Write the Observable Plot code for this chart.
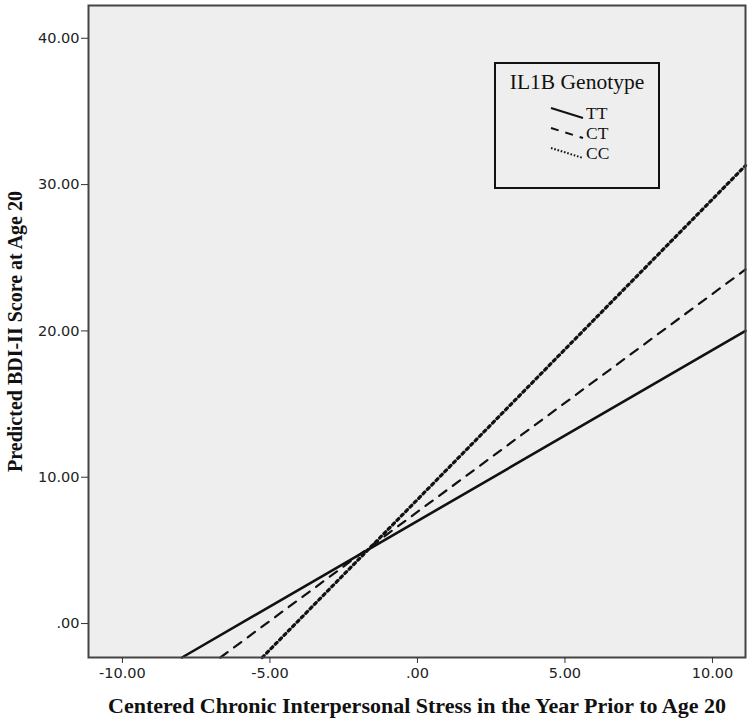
<!DOCTYPE html>
<html>
<head>
<meta charset="utf-8">
<script src="https://cdn.jsdelivr.net/npm/d3@7"></script>
<script src="https://cdn.jsdelivr.net/npm/@observablehq/plot@0.6"></script>
<style>
  html, body { margin: 0; padding: 0; background: #fff; }
  #wrap { position: relative; width: 750px; height: 722px; }
  #legend {
    position: absolute; left: 494px; top: 62px; width: 162px; height: 123px;
    border: 2px solid #111; box-sizing: content-box;
    font-family: "Liberation Serif", serif; color: #111;
  }
  #legend .ttl { position: absolute; left: 0; width: 100%; top: 6px; text-align: center; font-size: 21.5px; }
  #legend svg { position: absolute; left: 0; top: 0; }
</style>
</head>
<body>
<div id="wrap"></div>
<script>
// Genotype series (endpoints of each predicted line)
const genotypes = ["TT", "CT", "CC"];
const stressX = {
  TT: [-7.98, 11.12],
  CT: [-6.68, 11.12],
  CC: [-5.26, 11.12]
};
const bdiY = {
  TT: [-2.32, 20.0],
  CT: [-2.32, 24.2],
  CC: [-2.32, 31.3]
};
const dashes = { TT: "none", CT: "9 8", CC: "2.6 3.6" };
const widths = { TT: 2.6, CT: 2.2, CC: 3.2 };

const xTicks = [-10, -5, 0, 5, 10];
const xTickLabels = ["-10.00", "-5.00", ".00", "5.00", "10.00"];
const yTicks = [0, 10, 20, 30, 40];
const yTickLabels = [".00", "10.00", "20.00", "30.00", "40.00"];

const xTitle = "Centered Chronic Interpersonal Stress in the Year Prior to Age 20";
const yTitle = "Predicted BDI-II Score at Age 20";
const legendTitle = "IL1B Genotype";

const rows = [];
for (const g of genotypes) {
  stressX[g].forEach((x, i) => rows.push({ g, x, y: bdiY[g][i] }));
}

const lineMarks = genotypes.map(g =>
  Plot.line(rows.filter(d => d.g === g), {
    x: "x", y: "y", stroke: "#111", strokeWidth: widths[g]
  })
);

const chart = Plot.plot({
  width: 750,
  height: 722,
  marginLeft: 88,
  marginRight: 5,
  marginTop: 5,
  marginBottom: 65,
  style: { background: "#fff", overflow: "visible" },
  x: { domain: [-11.15, 11.12] },
  y: { domain: [-2.32, 42.24] },
  marks: [
    Plot.frame({ fill: "#eeeeee" }),
    ...lineMarks,
    Plot.frame({ stroke: "#444", strokeWidth: 2 }),
    Plot.axisX({
      ticks: xTicks, tickFormat: d => xTickLabels[xTicks.indexOf(d)],
      tickSize: 6, tickPadding: 4, label: null, stroke: "#333",
      fontSize: 14.5, fontFamily: "DejaVu Sans, sans-serif", fill: "#222"
    }),
    Plot.axisY({
      ticks: yTicks, tickFormat: d => yTickLabels[yTicks.indexOf(d)],
      tickSize: 7, tickPadding: 2, label: null, stroke: "#333",
      fontSize: 14.5, fontFamily: "DejaVu Sans, sans-serif", fill: "#222"
    }),
    Plot.text([xTitle], {
      frameAnchor: "bottom", dy: 48, text: d => d, fontSize: 22,
      fontWeight: "bold", fontFamily: "Liberation Serif, serif", fill: "#111",
      lineAnchor: "middle", textAnchor: "middle"
    }),
    Plot.text([yTitle], {
      frameAnchor: "left", dx: -73, rotate: -90, text: d => d, fontSize: 20,
      fontWeight: "bold", fontFamily: "Liberation Serif, serif", fill: "#111",
      lineAnchor: "middle", textAnchor: "middle"
    })
  ]
});

// Apply the dash patterns to the drawn line paths (one group per series, in order)
const lineGroups = Array.from(chart.querySelectorAll('g[aria-label="line"]'));
lineGroups.forEach((grp, i) => {
  const g = genotypes[i];
  grp.querySelectorAll("path").forEach(p => {
    p.setAttribute("stroke-dasharray", dashes[g]);
  });
});

const wrap = document.getElementById("wrap");
wrap.appendChild(chart);

// Legend box
const lg = document.createElement("div");
lg.id = "legend";
lg.innerHTML = `<div class="ttl">${legendTitle}</div>`;
const svgNS = "http://www.w3.org/2000/svg";
const s = document.createElementNS(svgNS, "svg");
s.setAttribute("width", 162); s.setAttribute("height", 123);
genotypes.forEach((g, i) => {
  const cy = 50 + i * 20;
  const l = document.createElementNS(svgNS, "line");
  l.setAttribute("x1", 55); l.setAttribute("y1", cy - 6);
  l.setAttribute("x2", 87); l.setAttribute("y2", cy + 4);
  l.setAttribute("stroke", "#111");
  l.setAttribute("stroke-width", 2);
  if (g === "CT") l.setAttribute("stroke-dasharray", "8 7");
  if (g === "CC") l.setAttribute("stroke-dasharray", "1.6 1.8");
  s.appendChild(l);
  const t = document.createElementNS(svgNS, "text");
  t.setAttribute("x", 90); t.setAttribute("y", cy + 1);
  t.setAttribute("dominant-baseline", "middle");
  t.setAttribute("font-size", 17.5);
  t.setAttribute("font-family", "Liberation Serif, serif");
  t.setAttribute("fill", "#111");
  t.textContent = g;
  s.appendChild(t);
});
lg.appendChild(s);
wrap.appendChild(lg);
</script>
</body>
</html>
